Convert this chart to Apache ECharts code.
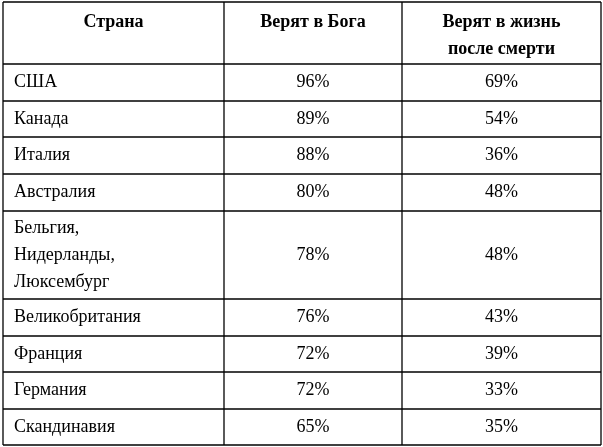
<!DOCTYPE html>
<html><head><meta charset="utf-8">
<script src="https://cdn.jsdelivr.net/npm/echarts@6/dist/echarts.min.js"></script>
<style>html,body{margin:0;padding:0;background:#fff}#c{width:603px;height:447px}</style>
</head><body><div id="c"></div>
<script>
const headers = ["Страна", "Верят в Бога", "Верят в жизнь\nпосле смерти"];
const countries = ["США","Канада","Италия","Австралия","Бельгия,\nНидерланды,\nЛюксембург","Великобритания","Франция","Германия","Скандинавия"];
const believeGod = [96,89,88,80,78,76,72,72,65];
const believeAfterlife = [69,54,36,48,48,43,39,33,35];

const colX = [3, 224, 402, 601];
const rowH = [62, 37, 36, 37, 37, 88, 37, 36, 37, 36];
const top0 = 2;
const font = '"Liberation Serif","DejaVu Serif",serif';
const els = [];
let ys = [top0];
rowH.forEach(h => ys.push(ys[ys.length-1] + h));
const line = (x1,y1,x2,y2) => els.push({type:'line', shape:{x1,y1,x2,y2}, style:{stroke:'#000', lineWidth:1.3}});
ys.forEach(y => line(colX[0], y, colX[3], y));
colX.forEach(x => line(x, ys[0], x, ys[ys.length-1]));
const txt = (s, x, y, align, bold, va) => els.push({type:'text', x, y, style:{text:s, fill:'#000', font:(bold?'bold ':'')+'18px '+font, align, verticalAlign:va||'middle', lineHeight:27}});
headers.forEach((h,i) => txt(h, (colX[i]+colX[i+1])/2, ys[0]+7, 'center', true, 'top'));
countries.forEach((c,r) => {
  const cy = (ys[r+1]+ys[r+2])/2;
  txt(c, 14, cy, 'left', false);
  txt(believeGod[r]+'%', (colX[1]+colX[2])/2, cy, 'center', false);
  txt(believeAfterlife[r]+'%', (colX[2]+colX[3])/2, cy, 'center', false);
});
const chart = echarts.init(document.getElementById('c'));
chart.setOption({animation:false, graphic:{elements:els}});
</script></body></html>
